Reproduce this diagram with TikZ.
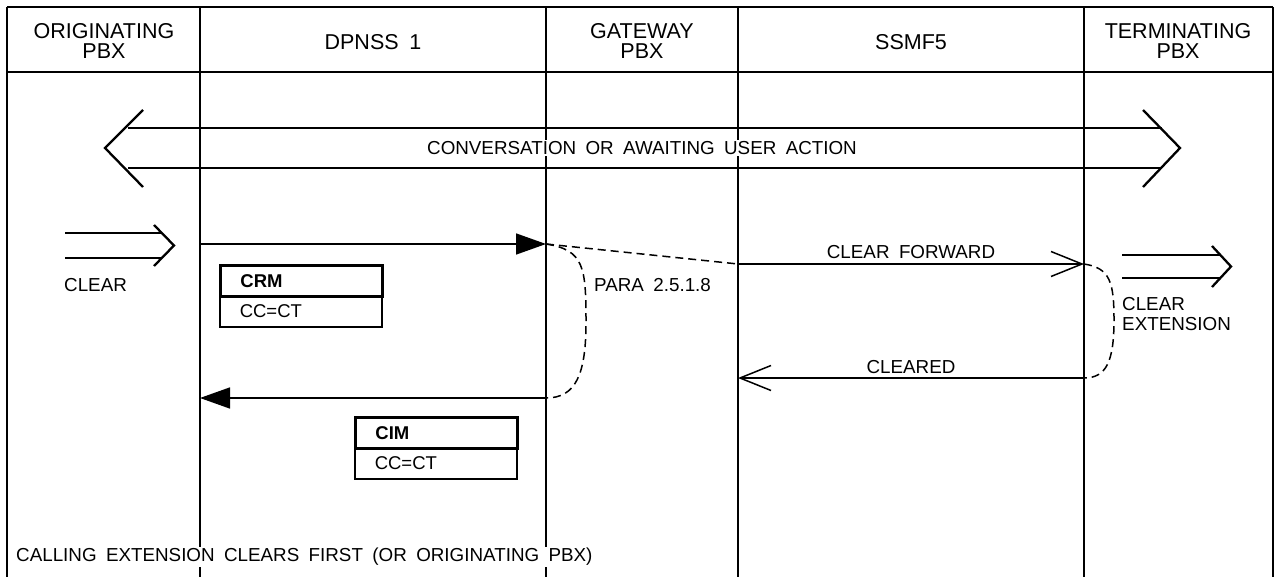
\documentclass[tikz,border=0pt]{standalone}
\usepackage{fontspec}
\setmainfont{Liberation Sans}[WordSpace=1.8]
\usetikzlibrary{arrows.meta,positioning}
\tikzstyle{rule}=[line width=2pt]
\tikzstyle{msg}=[line width=1.5pt]
\tikzstyle{bigarrow}=[line width=2.3pt]
\tikzstyle{hdr}=[font=\fontsize{21.5}{20.5}\selectfont,align=center]
\tikzstyle{lbl}=[font=\fontsize{18.8}{20}\selectfont,inner sep=1pt]
\tikzstyle{solidhead}=[-{Triangle[length=30pt,width=21pt]}]
\tikzstyle{openhead}=[-{Straight Barb[length=31pt,width=25pt]}]
\tikzstyle{dashcurve}=[line width=1.5pt,dash pattern=on 8pt off 5pt]
\tikzstyle{boxtop}=[draw,line width=2.8pt,inner xsep=20pt,inner ysep=0pt,text width=122pt,minimum height=31pt,align=left,font=\bfseries\fontsize{18.5}{20}\selectfont,anchor=north west]
\tikzstyle{boxbot}=[draw,line width=1.5pt,inner xsep=20pt,inner ysep=0pt,text width=122pt,minimum height=31pt,align=left,font=\fontsize{18.5}{20}\selectfont,anchor=north west]

\begin{document}
\begin{tikzpicture}[x=1pt,y=-1pt]
\useasboundingbox (0,0) rectangle (1281,577);

\foreach \x in {7,200,546,738,1084,1273}{
	\draw[rule] (\x,7) -- (\x,577);
}
\draw[rule] (7,7) -- (1273,7) (7,72) -- (1273,72);

\node[hdr] (orig) at (104,41) {ORIGINATING\\PBX};
\node[hdr] (dpnss) at (373,42) {DPNSS 1};
\node[hdr] (gate) at (642,41) {GATEWAY\\PBX};
\node[hdr] (ssmf) at (911,42) {SSMF5};
\node[hdr] (term) at (1178,41) {TERMINATING\\PBX};

\draw[bigarrow] (128,128) -- (1162,128) (128,168) -- (1162,168);
\draw[bigarrow] (143,110) -- (105,148) -- (143,187);
\draw[bigarrow] (1143,110) -- (1180,148) -- (1143,187);
\node[lbl,fill=white] (conv) at (642,148) {CONVERSATION OR AWAITING USER ACTION};

\draw[bigarrow] (65,233) -- (162,233) (65,258) -- (162,258);
\draw[bigarrow] (154,225) -- (174,245.5) -- (154,266);
\node[lbl,anchor=west] (clr) at (63,285) {CLEAR};

\draw[bigarrow] (1122,255) -- (1221,255) (1122,278) -- (1221,278);
\draw[bigarrow] (1212,246) -- (1231,266.5) -- (1212,287);
\node[lbl,anchor=north west,align=left] (clrext) at (1121,296) {CLEAR\\EXTENSION};

\coordinate (dpA) at (200,244);
\coordinate (gwA) at (546,244);
\coordinate (ssA) at (738,264);
\coordinate (tmA) at (1084,264);
\coordinate (tmB) at (1084,378);
\coordinate (ssB) at (738,378);
\coordinate (gwB) at (546,398);
\coordinate (dpB) at (200,398);

\draw[msg,solidhead] (dpA) -- (gwA);
\draw[dashcurve] (gwA) -- (ssA);
\draw[msg,openhead] (ssA) -- (tmA);
\node[lbl] (cf) at (911,252) {CLEAR FORWARD};
\draw[dashcurve] (gwA) .. controls +(38,6) and +(0,-55) .. (586,322) .. controls +(0,52) and +(30,0) .. (gwB);
\node[lbl,anchor=west] (para) at (593,285) {PARA 2.5.1.8};
\draw[dashcurve] (tmA) .. controls +(26,4) and +(0,-38) .. (1114,320) .. controls +(0,42) and +(22,0) .. (tmB);
\draw[msg,openhead] (tmB) -- (ssB);
\node[lbl] (cld) at (911,367) {CLEARED};
\draw[msg,solidhead] (gwB) -- (dpB);

\node[boxbot] (crmv) at (219,295) {CC=CT};
\node[boxtop] (crm) at (219,264) {CRM};
\node[boxbot] (cimv) at (354,447) {CC=CT};
\node[boxtop] (cim) at (354,416) {CIM};

\node[lbl,fill=white,anchor=west] (note) at (15,557) {CALLING EXTENSION CLEARS FIRST (OR ORIGINATING PBX)};
\end{tikzpicture}
\end{document}
